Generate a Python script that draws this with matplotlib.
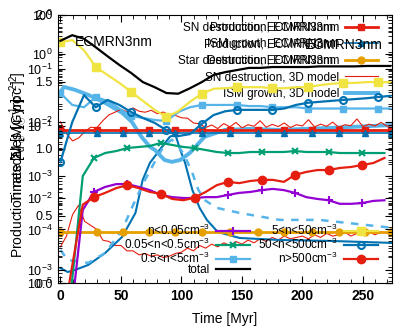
import numpy as np
import matplotlib.pyplot as plt
from matplotlib.lines import Line2D
from matplotlib.ticker import MultipleLocator

plt.rcParams['font.family'] = ['Liberation Sans', 'DejaVu Sans']
plt.rcParams['mathtext.fontset'] = 'custom'
plt.rcParams['mathtext.rm'] = 'Liberation Sans'
plt.rcParams['mathtext.it'] = 'Liberation Sans:italic'
plt.rcParams['mathtext.bf'] = 'Liberation Sans:bold'

# ---- surface density per density bin (log layer) ----
t_a = np.arange(0, 275, 29.2 / 3)
t_b = np.arange(0, 275, 27.7 / 3)

total = [0.33, 0.42, 0.36, 0.25, 0.17, 0.117, 0.083, 0.056, 0.045, 0.035, 0.034, 0.043,
         0.056, 0.076, 0.086, 0.094, 0.103, 0.103, 0.107, 0.107, 0.107, 0.107, 0.11, 0.11,
         0.11, 0.11, 0.112, 0.112, 0.112]
n_5_50 = [0.31, 0.34, 0.22, 0.107, 0.076, 0.054, 0.037, 0.025, 0.017, 0.0125, 0.016, 0.024,
          0.034, 0.042, 0.043, 0.045, 0.045, 0.045, 0.043, 0.043, 0.045, 0.045, 0.049, 0.052,
          0.054, 0.054, 0.056, 0.056, 0.056]
n_50_500 = [0.0018, 0.010, 0.032, 0.019, 0.026, 0.021, 0.0155, 0.012, 0.0097, 0.0071, 0.0055,
            0.006, 0.0093, 0.0136, 0.016, 0.017, 0.017, 0.017, 0.017, 0.018, 0.021, 0.023,
            0.024, 0.025, 0.026, 0.027, 0.028, 0.0295, 0.031]
n_05_5 = [0.035, 0.021, 0.019, 0.0295, 0.025, 0.018, 0.013, 0.012, 0.011, 0.0105, 0.0155,
          0.019, 0.021, 0.021, 0.021, 0.021, 0.020, 0.020, 0.019, 0.019, 0.019, 0.018, 0.018,
          0.018, 0.018, 0.018, 0.018, 0.018, 0.018]
n_lt005 = [1e-6, 3e-6, 2.3e-4, 5.0e-4, 6.2e-4, 7.0e-4, 7.0e-4, 6.2e-4, 5.4e-4, 4.4e-4, 4.0e-4,
           3.85e-4, 3.85e-4, 4.0e-4, 4.0e-4, 4.4e-4, 4.8e-4, 5.0e-4, 5.4e-4, 5.7e-4, 5.4e-4,
           4.8e-4, 4.0e-4, 3.7e-4, 3.5e-4, 3.0e-4, 3.0e-4, 3.1e-4, 3.4e-4, 3.5e-4]
n_005_05 = [1e-6, 9e-6, 9.9e-4, 2.15e-3, 2.66e-3, 2.9e-3, 3.3e-3, 3.45e-3, 3.6e-3, 4.1e-3,
            3.76e-3, 3.45e-3, 3.3e-3, 3.03e-3, 2.78e-3, 2.66e-3, 2.66e-3, 2.78e-3, 2.78e-3,
            2.78e-3, 2.78e-3, 2.9e-3, 2.78e-3, 2.78e-3, 2.78e-3, 2.66e-3, 2.66e-3, 2.66e-3,
            2.66e-3, 2.66e-3]
n_gt500 = [1e-6, 1.8e-5, 2.9e-4, 4.0e-4, 4.8e-4, 5.9e-4, 6.7e-4, 5.9e-4, 5.0e-4, 4.6e-4, 3.7e-4,
           3.5e-4, 3.9e-4, 5.0e-4, 6.7e-4, 7.7e-4, 7.3e-4, 8.0e-4, 8.4e-4, 8.4e-4, 7.7e-4,
           1.04e-3, 1.18e-3, 1.28e-3, 1.28e-3, 1.40e-3, 1.46e-3, 1.59e-3, 1.73e-3, 2.15e-3]

# ---- rates (log layer) ----
t_ec = [0, 30, 51.5, 73, 95, 117, 140, 163, 185, 208, 230, 252, 273.5]
prod_ec = [0.087, 0.087, 0.087, 0.087, 0.087, 0.087, 0.087, 0.087, 0.087, 0.087, 0.087, 0.087, 0.087]
grow_ec = [0.081, 0.081, 0.081, 0.081, 0.081, 0.081, 0.081, 0.081, 0.081, 0.081, 0.081, 0.081, 0.081]
dest_ec = [0.0034, 0.0034, 0.0034, 0.0034, 0.0034, 0.0034, 0.0034, 0.0034, 0.0034, 0.0034,
           0.0034, 0.0034, 0.0034]

sn_3d = [0.114, 0.078, 0.062, 0.068, 0.083, 0.096, 0.094, 0.118, 0.142, 0.155, 0.17, 0.158,
         0.178, 0.16, 0.155, 0.165, 0.148, 0.156, 0.142, 0.14, 0.13, 0.128, 0.11, 0.107, 0.095,
         0.103, 0.092, 0.108, 0.097, 0.112, 0.094, 0.104, 0.099, 0.118, 0.096, 0.105, 0.098,
         0.11, 0.095, 0.104, 0.1, 0.122, 0.097, 0.106, 0.099, 0.113, 0.096, 0.104, 0.101, 0.125,
         0.098, 0.106, 0.1, 0.112, 0.099, 0.103]
t_sn = np.arange(len(sn_3d)) * 5.0

t_g3 = [0, 3, 12, 23, 37, 51, 59, 67, 74, 78, 86, 92, 99, 107, 119, 136, 157, 181, 223, 275]
grow_3d = [0.297, 0.348, 0.317, 0.27, 0.209, 0.152, 0.114, 0.0705, 0.0512, 0.0465, 0.0337,
           0.0317, 0.0337, 0.0423, 0.0705, 0.0881, 0.0911, 0.0881, 0.094, 0.103]

# ---- ratios (linear layer) ----
sn_low = [0.27, 0.35, 0.51, 0.58, 0.46, 0.43, 0.40, 0.32, 0.31, 0.28, 0.28, 0.24, 0.24, 0.21,
          0.22, 0.20, 0.21, 0.19, 0.20, 0.22, 0.23, 0.26, 0.24, 0.28, 0.26, 0.29, 0.27, 0.30,
          0.28, 0.31, 0.29, 0.32, 0.30, 0.33, 0.31, 0.34, 0.32, 0.35, 0.33, 0.34, 0.35, 0.33,
          0.36, 0.34, 0.37, 0.35, 0.36, 0.38, 0.35, 0.37, 0.36, 0.38, 0.36, 0.38, 0.37, 0.38]
t_low = np.arange(len(sn_low)) * 5.0

t_bh = [0, 6, 12, 23, 37, 51, 62, 68, 74, 84, 90.5, 95, 99, 103, 109, 115, 121, 130, 148, 181, 223, 275]
hump_b = [0.112, 0.082, 0.097, 0.135, 0.224, 0.344, 0.523, 0.77, 0.897, 1.017, 1.092, 1.107,
          0.994, 0.897, 0.695, 0.561, 0.471, 0.381, 0.336, 0.321, 0.314, 0.299]
t_dh = [0, 6, 23, 37, 51, 62, 70, 78, 86, 92, 97, 103, 109, 114, 119, 129, 148, 167, 181, 214, 275]
hump_d = [0.247, 0.172, 0.150, 0.224, 0.396, 0.621, 0.770, 0.905, 1.032, 1.069, 1.032, 0.942,
          0.822, 0.695, 0.62, 0.561, 0.523, 0.493, 0.471, 0.471, 0.411]

purple = '#9400d3'
green = '#009e73'
lblue = '#56b4e9'
yellow = '#f0e442'
blue = '#0072b2'
red = '#e51e10'
orange = '#e69f00'

fig = plt.figure(figsize=(4.15, 3.32), dpi=100)
rect = [58 / 415, 49 / 332, 334 / 415, 268 / 332]
axL = fig.add_axes(rect)
axB = fig.add_axes(rect, facecolor='none')
axA = fig.add_axes(rect, facecolor='none')

for ax in (axL, axB, axA):
    ax.set_xlim(-2, 274)
    ax.tick_params(which='both', direction='in', left=True, right=True, labelsize=9, pad=4)
    ax.tick_params(which='major', length=5)
    ax.tick_params(which='minor', length=3)
    if ax is not axA:
        ax.tick_params(axis='x', which='both', bottom=False, top=False, labelbottom=False)
        for s in ax.spines.values():
            s.set_visible(False)

axA.set_yscale('log')
axA.set_ylim(1e-5, 1)
axB.set_yscale('log')
axB.set_ylim(10 ** -3.18, 10 ** 0.54)
axL.set_ylim(0, 2.0)
axL.yaxis.set_major_locator(MultipleLocator(0.5))
axL.yaxis.set_minor_locator(MultipleLocator(0.1))

axA.xaxis.set_major_locator(MultipleLocator(50))
axA.xaxis.set_minor_locator(MultipleLocator(10))
axA.tick_params(axis='x', which='both', top=True, bottom=True)
plt.setp(axA.get_xticklabels(), fontweight='bold', fontsize=10)
axA.set_xlabel('Time [Myr]', fontsize=10, labelpad=7)

# linear layer
axL.plot(t_low, sn_low, color=red, lw=0.8)
axL.plot(t_bh, hump_b, color=blue, lw=1.5)
axL.plot(t_dh, hump_d, color=lblue, lw=1.8, dashes=(3, 3))

# rate layer
axB.plot(t_g3, grow_3d, color=lblue, lw=2.8, label='ISM growth, 3D model')
axB.plot(t_sn, sn_3d, color=red, lw=0.8, label='SN destruction, 3D model')
axB.plot(t_ec, prod_ec, color=red, lw=2, marker='s', ms=4, label='Production, ECMRN3nm')
axB.plot(t_ec, grow_ec, color=blue, lw=1.2, marker='^', ms=4.5, label='ISM growth, ECMRN3nm')
axB.plot(t_ec, dest_ec, color=orange, lw=2, marker='o', ms=5, label='Destruction, ECMRN3nm')

# density bins
kw = dict(lw=1.6, markevery=3)
axA.plot(t_b, n_lt005, color=purple, marker='+', ms=6, mew=1.5, label='n<0.05cm$^{-3}$', **kw)
axA.plot(t_b, n_005_05, color=green, marker='x', ms=4, mew=1.5, label='0.05<n<0.5cm$^{-3}$', **kw)
axA.plot(t_a, n_05_5, color=lblue, marker='s', ms=5, label='0.5<n<5cm$^{-3}$', **kw)
axA.plot(t_a, n_5_50, color=yellow, marker='s', ms=6, label='5<n<50cm$^{-3}$', **kw)
axA.plot(t_a, n_50_500, color=blue, marker='o', ms=5, mfc='none', mew=1.5, label='50<n<500cm$^{-3}$', **kw)
axA.plot(t_b, n_gt500, color=red, marker='o', ms=6, label='n>500cm$^{-3}$', **kw)
axA.plot(t_a, total, color='black', lw=1.6, label='total')

h, l = axA.get_legend_handles_labels()
order = [0, 1, 2, 6, 3, 4, 5]
axA.legend([h[i] for i in order], [l[i] for i in order], ncol=2, markerfirst=False,
           frameon=False, fontsize=8.5, handlelength=2.9, labelspacing=-0.12,
           columnspacing=0.7, handletextpad=0.5, borderpad=0, borderaxespad=0,
           loc='upper right', bbox_to_anchor=(378 / 415, 1 - 223 / 332),
           bbox_transform=fig.transFigure)

hb, lb = axB.get_legend_handles_labels()
orderb = [2, 3, 4, 1, 0]
axB.legend([hb[i] for i in orderb], [lb[i] for i in orderb], markerfirst=False,
           frameon=False, fontsize=8.5, handlelength=2.8, labelspacing=0.38,
           handletextpad=0.5, borderpad=0, borderaxespad=0, loc='upper right',
           bbox_to_anchor=(378 / 415, 1 - 22 / 332), bbox_transform=fig.transFigure)

# second set of overlapping key texts
blank = Line2D([], [], lw=0)
axL.legend([blank, blank, blank], ['SN destruction, ECMRN3nm', 'Production, ECMRN3nm',
                                   'Star destruction, ECMRN3nm'],
           markerfirst=False, frameon=False, fontsize=8.5, handlelength=2.8, labelspacing=0.38,
           handletextpad=0.5, borderpad=0, borderaxespad=0, loc='upper right',
           bbox_to_anchor=(372 / 415, 1 - 22 / 332), bbox_transform=fig.transFigure)

fig.text(75 / 415, 1 - 42 / 332, 'ECMRN3nm', fontsize=10, va='center', ha='left')
fig.text(383 / 415, 1 - 45 / 332, 'ECMRN3nm', fontsize=10, va='center', ha='right')

fig.text(18 / 415, 1 - 165 / 332, 'Production rate [M$_\\odot$ yr$^{-1}$ pc$^{-2}$]',
         rotation=90, fontsize=10, ha='center', va='center')
fig.text(18 / 415, 1 - 150 / 332, 'Timescales [Gyr]', rotation=90, fontsize=10,
         ha='center', va='center')
fig.text(18 / 415, 1 - 120 / 332, '$\\Sigma_{\\rm d}$ [M$_\\odot$ pc$^{-2}$]', rotation=90,
         fontsize=10, ha='center', va='center')

fig.savefig('out.png', dpi=100)
